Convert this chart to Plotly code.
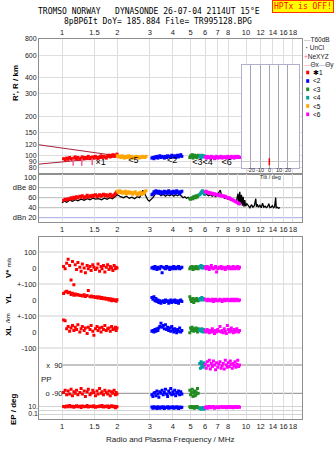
import math
import plotly.graph_objects as go

# ---------------- data ----------------
# mode 1 (red)
red_f = [1.02,1.04,1.06,1.08,1.10,1.12,1.14,1.16,1.18,1.20,1.22,1.25,1.27,1.29,1.32,1.34,1.37,1.39,1.42,1.44,
         1.47,1.49,1.52,1.55,1.57,1.60,1.63,1.65,1.68,1.71,1.74,1.77,1.80,1.83,1.86,1.89,1.92,1.95,1.97,1.99]
red_h = [94,92,95,93,96,94,93,95,97,94,96,93,95,97,94,96,95,98,94,96,97,95,98,96,94,97,99,96,98,97,95,99,100,97,99,101,98,100,99,102]
red_dbe = [55,57,56,58,57,60,58,61,59,62,60,63,61,64,60,62,65,61,64,62,65,63,66,62,64,66,63,65,67,64,66,63,65,67,62,64,66,68,70,72]
red_v = [10,-5,30,55,15,-75,40,-105,20,-10,35,5,-20,25,0,-30,15,-5,10,-15,20,5,-10,0,25,-20,10,-5,15,-25,5,20,-10,10,0,-15,15,-5,5,0]
red_yl = [40,50,55,45,48,35,42,30,38,32,35,28,30,25,33,22,28,60,20,25,18,22,15,20,12,18,10,15,8,12,5,10,0,8,-5,5,-3,0,-8,2]
red_xl = [75,70,20,35,5,25,40,10,30,15,45,0,20,35,10,25,-10,30,15,40,5,-20,20,35,10,25,0,30,15,40,10,20,25,5,35,15,20,30,10,25]
red_pp = [-85,-70,-100,-75,-95,-65,-105,-80,-90,-70,-100,-85,-60,-95,-75,-110,-80,-65,-100,-90,-70,-85,-105,-75,-95,-60,-90,-80,-100,-70,
          -85,-95,-75,-105,-80,-90,-70,-100,-85,-95]
red_ep = [12,8,15,10,20,9,14,7,11,18,10,13,6,16,9,12,22,8,11,14,10,17,7,12,9,15,11,20,8,13,10,16,6,12,18,9,14,5,11,10]

# mode 5 (orange) - height and amplitude only
orange_f = [2.0,2.03,2.06,2.09,2.12,2.15,2.18,2.21,2.24,2.27,2.3,2.34,2.38,2.42,2.46,2.5,2.54,2.58,2.62,2.66,2.7,2.74,2.78,2.82,2.86]
orange_h = [99,97,98,96,99,97,95,98,96,97,99,96,98,95,97,96,98,97,95,97,96,98,97,96,98]
orange_dbe = [73,71,74,70,72,69,71,73,68,70,72,69,71,67,70,72,68,66,69,71,67,70,68,72,74]

# mode 2 (blue)
blue_f = [3.08,3.12,3.16,3.2,3.24,3.28,3.32,3.36,3.4,3.45,3.5,3.55,3.6,3.65,3.7,3.75,3.8,3.85,3.9,3.95,
          4.0,4.05,4.1,4.15,4.2,4.25,4.3,4.36,4.42,4.48]
blue_h = [95,96,94,97,96,98,95,97,99,96,98,97,95,98,96,99,97,98,96,100,98,97,99,96,98,100,97,99,101,98]
blue_dbe = [66,68,72,70,74,71,69,73,70,72,68,71,73,69,72,70,74,71,68,72,70,73,69,71,74,70,72,68,71,73]
blue_v = [0,5,-5,10,0,-10,5,0,-5,10,-30,5,0,-5,10,0,5,-10,0,5,-5,10,0,-5,5,0,10,-5,0,5]
blue_yl = [15,5,20,-5,10,-10,0,-15,-5,-20,-10,-5,-15,0,-10,-5,-20,-10,0,-15,-5,-10,0,-15,-5,-10,-20,-5,0,-10]
blue_xl = [5,10,0,15,5,20,10,25,35,55,30,40,20,45,15,30,10,25,5,35,15,0,20,10,-5,15,5,25,0,10]
blue_pp = [-100,-110,-90,-85,-105,-75,-95,-115,-80,-90,-70,-100,-85,-65,-95,-110,-75,-90,-60,-100,-80,-95,-70,-105,-85,-90,-75,-100,-80,-95]
blue_ep = [8,4,10,5,7,3,9,6,4,8,5,10,3,7,6,9,4,8,5,6,10,4,7,5,9,6,3,8,5,7]

# mode 3 (green)
green_f = [4.95,5.0,5.05,5.1,5.15,5.2,5.25,5.3,5.35,5.4,5.45,5.5]
green_h = [96,99,97,101,95,98,100,97,99,96,98,100]
green_dbe = [58,57,59,60,58,62,61,63,60,64,62,65]
green_v = [-5,5,0,10,-10,5,0,-5,10,0,5,-5]
green_yl = [20,5,-10,0,10,-15,5,0,-5,10,0,-5]
green_xl = [-5,25,10,30,15,5,20,10,25,15,0,20]
green_pp = [-70,-100,-85,-65,-110,-90,-75,-105,-80,-95,-60,-90]
green_ep = [9,6,12,5,8,10,4,7,11,6,9,5]

# mode 4 (teal)
teal_f = [5.6,5.65,5.7,5.75,5.8,5.85,5.9,5.95]
teal_h = [97,99,96,100,98,97,99,98]
teal_dbe = [66,68,70,72,74,71,69,67]
teal_v = [10,5,15,0,10,5,0,8]
teal_yl = [5,10,0,15,5,10,0,5]
teal_xl = [10,15,5,20,10,0,15,5]
teal_pp = [100,70,110,85,95,75,105,90]
teal_ep = [3,5,2,4,3,6,2,4]

# mode 6 (magenta)
mag_f = [6.0,6.08,6.16,6.24,6.32,6.4,6.48,6.56,6.65,6.74,6.83,6.92,7.02,7.12,7.22,7.32,7.42,7.52,7.62,7.72,
         7.82,7.92,8.02,8.12,8.22,8.32,8.42,8.52,8.62,8.72,8.82,8.92,9.02,9.12,9.22]
mag_h = [97,95,98,96,97,95,98,96,97,94,96,98,95,97,96,98,95,97,96,97,95,98,96,97,95,98,96,97,95,98,97,96,98,97,96]
mag_dbe = [72,73,70,71,69,70,68,69,67,68,66,67,65,66,64,65,63,64,62,63,61,60,59,60,58,57,56,55,54,53,52,51,50,49,48]
mag_v = [5,-5,10,0,-10,5,15,0,-5,0,10,-25,-5,5,0,10,-5,5,0,-10,5,0,10,-5,0,5,-5,10,0,-5,5,0,10,-5,5]
mag_yl = [5,0,-5,5,0,-5,0,5,-10,0,5,-5,0,-5,5,0,-10,0,5,-5,0,5,0,-5,0,5,-5,0,5,-5,0,5,0,-5,0]
mag_xl = [10,0,15,5,-5,10,0,20,5,-10,10,0,15,5,35,0,10,-5,20,5,-10,40,15,0,10,25,5,-5,15,0,10,20,5,0,10]
mag_pp = [95,70,110,85,120,65,100,80,115,90,60,105,75,95,110,70,85,100,65,120,90,75,105,80,115,95,70,100,85,110,75,95,120,80,90]
mag_ep = [6,10,4,8,12,5,9,7,11,4,8,6,10,5,9,7,12,6,8,10,5,9,7,11,6,8,10,5,9,7,12,6,8,10,7]

# unclassified amplitude trace (black)
black_f = [1.0,1.03,1.06,1.1,1.14,1.18,1.22,1.27,1.32,1.37,1.42,1.47,1.52,1.58,1.64,1.7,1.76,1.82,1.88,1.94,
           2.0,2.08,2.16,2.24,2.32,2.4,2.48,2.56,2.64,2.7,2.75,2.8,2.86,2.92,2.98,3.05,3.12,3.2,3.28,3.36,
           3.45,3.55,3.65,3.75,3.85,3.95,4.05,4.15,4.25,4.35,4.45,4.55,4.65,4.75,4.85,4.95,5.05,5.15,5.25,5.35,
           5.45,5.55,5.65,5.75,5.85,5.95,6.1,6.25,6.4,6.55,6.7,6.85,7.0,7.15,7.25,7.35,7.5,7.65,7.8,7.95,
           8.1,8.25,8.4,8.55,8.7,8.85,8.95,9.05,9.15,9.25,9.35,9.45,9.55,9.65,9.75,9.85,9.95,10.1,10.3,10.5,
           10.7,10.9,11.1,11.3,11.4,11.5,11.7,11.9,12.1,12.3,12.5,12.7,12.9,13.1,13.3,13.5,13.7,13.9,14.1,14.3,
           14.5,14.6,14.8,15.0,15.3]
black_dbe = [50,53,51,55,53,56,54,57,55,58,56,59,57,58,56,59,57,60,58,62,
             66,62,60,63,59,61,58,62,60,68,75,70,62,56,53,56,60,66,75,68,
             64,67,63,66,64,67,63,66,64,67,63,60,62,59,61,58,60,57,61,59,
             63,66,70,73,68,65,67,64,66,63,65,62,66,72,75,66,62,59,60,57,
             58,55,56,53,54,50,60,68,45,72,48,66,44,62,42,55,43,48,44,40,
             46,41,44,58,42,47,41,45,40,49,41,43,40,42,48,40,41,44,40,42,
             60,40,41,39,40]

# model curves in the height panel
curve_f = [0.75,1.0,1.5,2.0,2.1]
curve_up_h = [120.5,114,105,100,98]
curve_lo_h = [85.3,88.6,93,97,98]

# NeXYZ marks
nexyz_f = [1.15,1.28,1.46]
nexyz_h = [88,88,89]

# tilt inset
tilt_deg = [0]
tilt_h = [89]
tilt_ticks = [-20, -10, 0, 10, 20]

# mode labels on height panel
lab_text = ["\u00d71", "<5", "<2", "<3<4", "<6"]
lab_f = [1.62, 2.44, 3.97, 5.8, 7.85]
lab_h = [88, 90, 90, 88, 88]

tick_f = [1,1.5,2,3,4,5,6,7,8,10,12,14,16,18]
tick_f_db = [1,1.5,2,3,4,5,6,7,8,9,10,12,14,16,18]
tick_h = [800,600,400,300,200,150,120,100,90,80]
tick_db = [100,80,60,40,20]
tick_db_txt = ["100","dBe 80","60","40","dBn 20"]
tick_low = [500,400,300,200,100,0,-100]
tick_low_txt = ["100","0","+-100","0","+-100","0","-100"]

# ---------------- layout helpers ----------------
W, H = 335, 451
L, R, T, B = 39, 33, 39, 32
PW, PH = W - L - R, H - T - B
FONT = "Liberation Sans"
MONO = "DejaVu Sans Mono"

def px(x): return (x - L) / PW
def py(y): return (H - B - y) / PH
def logf_at(xp): return (xp - 62) / 184.0
def logh_at(yp): return 2.9031 - (yp - 39) / 128.7
def db_at(yp): return 100 - (yp - 177.7) * 2.0
def u_at(yp): return (332 - yp) / 0.16
def pp_at(yp): return 90 + (365 - yp) / 0.15722
def logep_at(yp): return 1 + (406.7 - yp) / 3.65

C = dict(red='#ff0000', orange='#ffa500', blue='#0000ff', green='#228b22', teal='#00a0a0', mag='#ff00ff')
GRID = '#dedede'
FRAME = '#8e8e8e'

fig = go.Figure()

def sc(x, y, xa, ya, color, size=3, symbol='square', mode='markers', width=1):
    if mode == 'markers':
        fig.add_trace(go.Scatter(x=x, y=y, xaxis=xa, yaxis=ya, mode='markers', hoverinfo='skip',
                                 marker=dict(color=color, size=size, symbol=symbol, line=dict(width=0))))
    else:
        fig.add_trace(go.Scatter(x=x, y=y, xaxis=xa, yaxis=ya, mode='lines', hoverinfo='skip',
                                 line=dict(color=color, width=width)))

# height panel
sc(curve_f, curve_up_h, 'x', 'y', '#a8203c', mode='lines', width=1)
sc(curve_f, curve_lo_h, 'x', 'y', '#a8203c', mode='lines', width=1)
for f, h, c in [(red_f, red_h, 'red'), (orange_f, orange_h, 'orange'), (blue_f, blue_h, 'blue'),
                (green_f, green_h, 'green'), (teal_f, teal_h, 'teal'), (mag_f, mag_h, 'mag')]:
    sc(f, h, 'x', 'y', C[c])
fig.add_trace(go.Scatter(x=nexyz_f, y=nexyz_h, xaxis='x', yaxis='y', mode='markers', hoverinfo='skip',
                         marker=dict(symbol='line-ns-open', size=5, color='#f06090',
                                     line=dict(color='#f06090', width=1.5))))
fig.add_trace(go.Scatter(x=lab_f, y=lab_h, xaxis='x', yaxis='y', mode='text', text=lab_text, hoverinfo='skip',
                         textfont=dict(family=FONT, size=9, color='#000')))

# amplitude panel
sc(black_f, black_dbe, 'x3', 'y2', '#000000', mode='lines', width=1.3)
for f, d, c in [(red_f, red_dbe, 'red'), (orange_f, orange_dbe, 'orange'), (blue_f, blue_dbe, 'blue'),
                (green_f, green_dbe, 'green'), (teal_f, teal_dbe, 'teal'), (mag_f, mag_dbe, 'mag')]:
    sc(f, d, 'x3', 'y2', C[c])

# lower panels
lower = [(red_f, red_v, red_yl, red_xl, red_pp, red_ep, 'red'),
         (blue_f, blue_v, blue_yl, blue_xl, blue_pp, blue_ep, 'blue'),
         (green_f, green_v, green_yl, green_xl, green_pp, green_ep, 'green'),
         (teal_f, teal_v, teal_yl, teal_xl, teal_pp, teal_ep, 'teal'),
         (mag_f, mag_v, mag_yl, mag_xl, mag_pp, mag_ep, 'mag')]
for f, v, yl, xl, pp, ep, c in lower:
    sc(f, v, 'x2', 'y8', C[c])
    sc(f, yl, 'x2', 'y9', C[c])
    sc(f, xl, 'x2', 'y3', C[c])
    sc(f, pp, 'x2', 'y4', C[c])
    sc(f, ep, 'x2', 'y5', C[c])

# tilt inset
fig.add_trace(go.Scatter(x=tilt_deg, y=tilt_h, xaxis='x4', yaxis='y6', mode='markers', hoverinfo='skip',
                         marker=dict(symbol='line-ns-open', size=5, color='#ff0000',
                                     line=dict(color='#ff0000', width=1.5))))

xr = [logf_at(39), logf_at(302)]
TF = dict(size=7.5, family=FONT, color='#222')
xcommon = dict(type='log', range=xr, showgrid=True, gridcolor=GRID, gridwidth=1, showline=True,
               linecolor=FRAME, linewidth=1, mirror=True, ticks='', zeroline=False, tickangle=0,
               tickfont=TF)
ycommon = dict(showline=True, linecolor=FRAME, linewidth=1, mirror=True, ticks='', zeroline=False,
               tickfont=TF)

fig.update_layout(
    width=W, height=H, margin=dict(l=L, r=R, t=T, b=B, pad=0),
    paper_bgcolor='white', plot_bgcolor='white', showlegend=False,
    font=dict(family=FONT, size=8, color='#222'),
    xaxis=dict(xcommon, domain=[0, 1], anchor='y', side='top', tickvals=tick_f,
               ticktext=[str(t) for t in tick_f]),
    xaxis3=dict(xcommon, domain=[0, 1], anchor='y2', side='bottom', tickvals=tick_f_db,
                ticktext=[str(t) for t in tick_f_db]),
    xaxis2=dict(xcommon, domain=[0, 1], anchor='y3', side='bottom', tickvals=tick_f,
                ticktext=[str(t) for t in tick_f]),
    xaxis4=dict(domain=[px(241.7), px(299)], anchor='y6', range=[-29.7, 31.9], tickvals=tilt_ticks,
                showticklabels=False, showgrid=True, gridcolor='#a4a4b8', showline=True, linecolor='#b0b0cc',
                mirror=True, ticks='', zeroline=False),
    yaxis=dict(ycommon, type='log', domain=[py(174), 1], range=[logh_at(174), logh_at(39)], anchor='x',
               tickvals=tick_h, ticktext=[str(t) for t in tick_h], showgrid=True, gridcolor=GRID,
               tickfont=dict(size=7, family=FONT, color='#222')),
    yaxis2=dict(ycommon, domain=[py(222.3), py(174)], range=[db_at(222.3), db_at(174)], anchor='x3',
                tickvals=tick_db, ticktext=tick_db_txt, showgrid=False),
    yaxis3=dict(ycommon, domain=[0, py(236.7)], range=[u_at(419), u_at(236.7)], anchor='x2',
                tickvals=tick_low, ticktext=tick_low_txt, showgrid=False),
    yaxis8=dict(overlaying='y3', anchor='x2', range=[u_at(419) - 400, u_at(236.7) - 400], visible=False),
    yaxis9=dict(overlaying='y3', anchor='x2', range=[u_at(419) - 200, u_at(236.7) - 200], visible=False),
    yaxis4=dict(overlaying='y3', anchor='free', position=px(62.5), side='left',
                range=[pp_at(419), pp_at(236.7)], tickvals=[90, -90], ticktext=['x\u00a0 90', 'o -90'],
                showgrid=False, showline=False, ticks='', zeroline=False, tickfont=TF),
    yaxis5=dict(overlaying='y3', anchor='x2', side='left', type='log',
                range=[logep_at(419), logep_at(236.7)], tickvals=[10, 1, 0.1], ticktext=['10.', '', '0.1'],
                showgrid=True, gridcolor='#d4d4d4', showline=False, ticks='', zeroline=False,
                tickfont=dict(size=7, family=FONT, color='#222')),
    yaxis6=dict(domain=[py(167.7), py(65)], anchor='x4', type='log', range=[logh_at(167.7), logh_at(65)],
                tickvals=[90], showticklabels=False, showgrid=True, gridcolor='#c8c8c8', showline=True,
                linecolor='#b0b0cc', mirror=True, ticks='', zeroline=False),
)

shapes = []
# white backing for the tilt inset (between grid and traces of the height panel)
shapes.append(dict(type='rect', xref='x', yref='y', x0=10 ** logf_at(241.7), x1=10 ** logf_at(299),
                   y0=10 ** logh_at(167.7), y1=10 ** logh_at(65), fillcolor='white',
                   line=dict(width=0), layer='between'))
# amplitude grid lines
for yv, col in [(80, '#b8b8b8'), (60, '#b8b8b8'), (40, '#b8b8b8'), (20, '#a8a8e8')]:
    shapes.append(dict(type='line', xref='x3 domain', yref='y2', x0=0, x1=1, y0=yv, y1=yv,
                       line=dict(color=col, width=1), layer='below'))
# V*/YL/XL separator grid lines
for yv in [500, 300, 100, -100]:
    shapes.append(dict(type='line', xref='x2 domain', yref='y3', x0=0, x1=1, y0=yv, y1=yv,
                       line=dict(color='#d0d0d0', width=1), layer='below'))
# PP reference lines
for yv in [90, -90]:
    shapes.append(dict(type='line', xref='x2 domain', yref='y4', x0=px(63), x1=1, y0=yv, y1=yv,
                       line=dict(color='#8a8a8a', width=1), layer='below'))
# legend swatches (decorative)
leg_y = [72.5, 81, 89.3, 97.7, 106, 114.3]
leg_c = [C['red'], C['blue'], C['green'], C['teal'], C['orange'], C['mag']]
for yy, cc in zip(leg_y, leg_c):
    shapes.append(dict(type='rect', xref='paper', yref='paper', x0=px(306.2), x1=px(309.2),
                       y0=py(yy + 1.8), y1=py(yy - 1.8), fillcolor=cc, line=dict(width=0)))
fig.update_layout(shapes=shapes)

ann = []
def text(x, y, s, size=8, color='#222', family=FONT, angle=0, xanchor='center', **kw):
    ann.append(dict(xref='paper', yref='paper', x=px(x), y=py(y), text=s, showarrow=False,
                    font=dict(size=size, color=color, family=family), textangle=angle,
                    xanchor=xanchor, yanchor='middle', **kw))

NB = '\u00a0'
text(149, 12, 'TROMSO NORWAY' + NB * 3 + 'DYNASONDE 26-07-04 2114UT 15\u00b0E', size=8, color='#000', family=MONO)
text(157.5, 21, '8pBP6It DoY= 185.884 File= TR995128.BPG', size=8, color='#000', family=MONO)
text(302.5, 7, 'HPTx is OFF!', size=8, color='#ff0000', family=MONO, bgcolor='#ffff00',
     bordercolor='#ff3300', borderwidth=1, borderpad=1)
text(15, 83, "<b>R', R / km</b>", size=8, color='#000', angle=-90)
text(8, 268, "<b>V*</b> <span style='font-size:6px'>m/s</span>", size=8, color='#000', angle=-90)
text(8, 299, '<b>YL</b>', size=8, color='#000', angle=-90)
text(8, 318, "<span style='font-size:6px'>/km</span>", size=8, color='#000', angle=-90)
text(8, 331, '<b>XL</b>', size=8, color='#000', angle=-90)
text(13, 409, '<b>EP / deg</b>', size=8, color='#000', angle=-90)
text(46, 379, 'PP', size=8, color='#222')
text(170, 439.5, 'Radio and Plasma Frequency / MHz', size=8, color='#222')
# tilt inset tick labels and title
for tv in tilt_ticks:
    ann.append(dict(xref='x4', yref='paper', x=tv, y=py(169.6), text=str(tv), showarrow=False,
                    font=dict(size=5.5, family=FONT, color='#222'), xanchor='center', yanchor='middle',
                    borderpad=0))
text(270, 177, 'Tilt / deg', size=5.5, color='#222', borderpad=0)
# legend labels (one block each)
leg1 = ("<span style='color:#aaaaaa'>\u2014</span>T60dB<br>"
        "\u00a0<b>\u00b7</b> UnCl<br>"
        "<span style='color:#ff6090'>+</span>NeXYZ<br>"
        "<span style='color:#ff8aa8'>\u2014</span>\u0398x<span style='color:#9a9aff'>\u2014</span>\u0398y")
text(302.5, 52.5, leg1, size=6.5, xanchor='left', align='left', borderpad=0)
leg2 = "<br>".join(['\u27311', '<2', '<3', '<4', '<5', '<6'])
text(311.5, 93.4, leg2, size=6.5, color='#000', xanchor='left', align='left', borderpad=0)
fig.update_layout(annotations=ann)

fig.write_html("out.html")
